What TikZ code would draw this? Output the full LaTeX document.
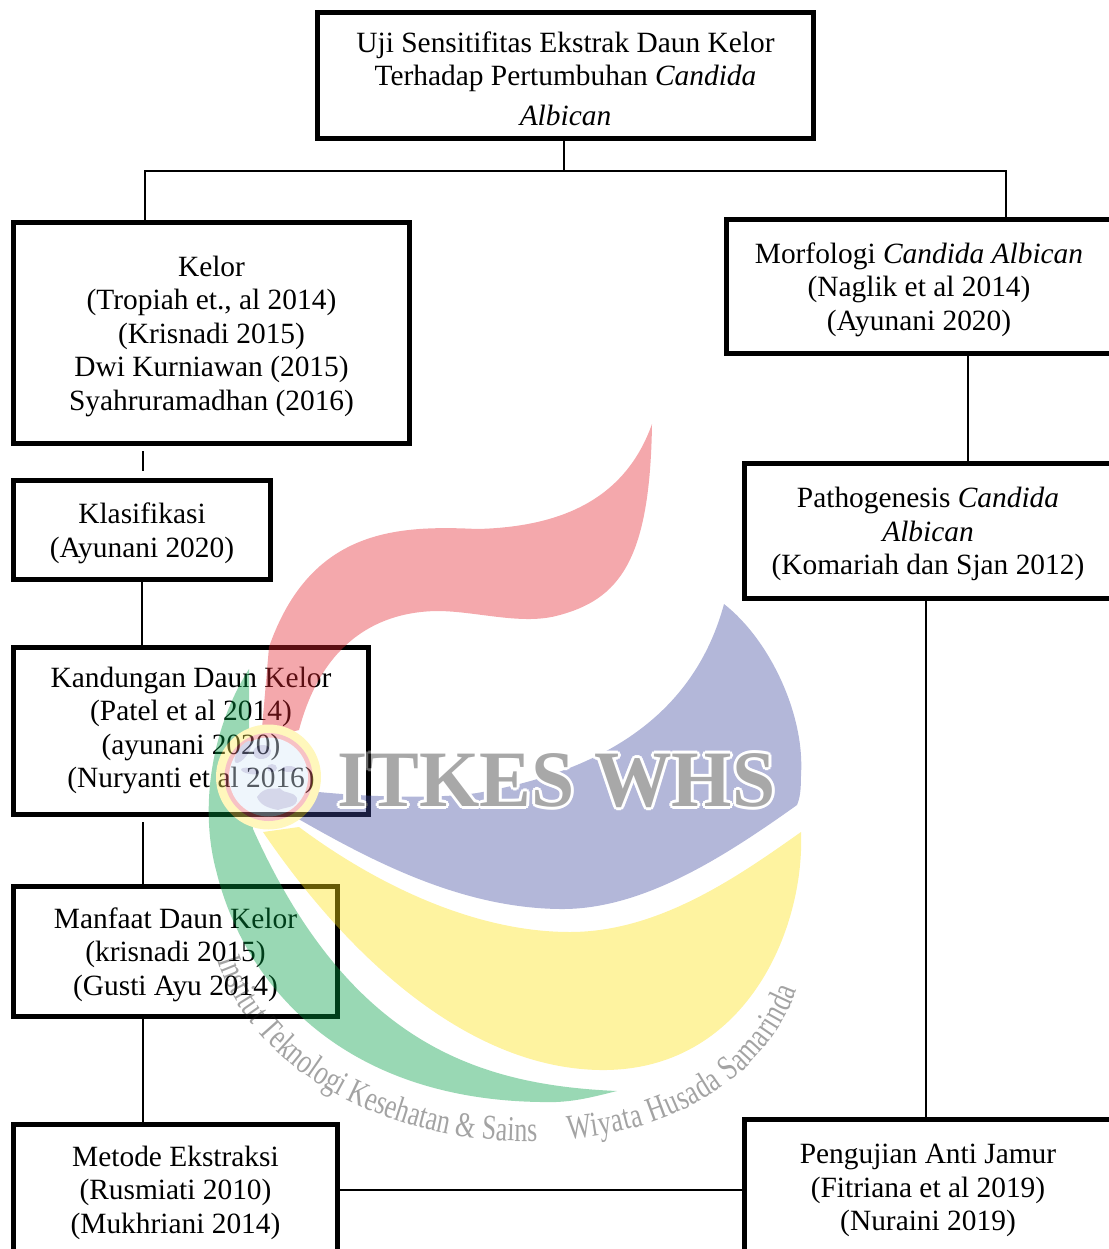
\documentclass[tikz,border=0pt]{standalone}
\usepackage{fontspec}
\setmainfont{Liberation Serif}
\newfontfamily\arcfont[FakeStretch=0.74]{Liberation Serif}
\usetikzlibrary{decorations.text}
\definecolor{logored}{RGB}{228,38,48}
\definecolor{logogreen}{RGB}{0,157,67}
\definecolor{logoblue}{RGB}{65,75,160}
\definecolor{logoyellow}{RGB}{253,225,17}
\definecolor{logosky}{RGB}{215,232,248}
\newcommand{\naik}{\rule{0pt}{27pt}}
\tikzset{
	teks/.style={align=center, inner sep=0pt},
	kotak/.style={draw, line width=5pt, teks},
	garis/.style={line width=2pt},
	wmtext/.style={font=\bfseries\fontsize{80}{80}\selectfont, xscale=0.97, inner sep=0pt}
}
\begin{document}
\begin{tikzpicture}[x=1pt,y=-1pt,font=\fontsize{29.4}{33.6}\selectfont, line join=miter]
	\useasboundingbox (0,0) rectangle (1108,1249);
	\node[kotak, minimum width=496pt, minimum height=126pt] (top) at (565.5,75.5) {\naik Uji Sensitifitas Ekstrak Daun Kelor\\Terhadap Pertumbuhan \textit{Candida}\\[6pt]\textit{Albican}};
	\node[kotak, minimum width=396pt, minimum height=221pt] (kelor) at (211.5,333) {\naik Kelor\\(Tropiah et., al 2014)\\(Krisnadi 2015)\\Dwi Kurniawan (2015)\\Syahruramadhan (2016)};
	\node[kotak, minimum width=257pt, minimum height=99pt] (klasifikasi) at (142,530) {\naik Klasifikasi\\(Ayunani 2020)};
	\node[kotak, minimum width=355pt, minimum height=167pt] (kandungan) at (191,731) {};
	\node[teks] (kandunganteks) at (191,730.5) {Kandungan Daun Kelor\\(Patel et al 2014)\\(ayunani 2020)\\(Nuryanti et al 2016)};
	\node[kotak, minimum width=324pt, minimum height=130pt] (manfaat) at (175.5,951.5) {\naik Manfaat Daun Kelor\\(krisnadi 2015)\\(Gusti Ayu 2014)};
	\node[kotak, minimum width=324pt, minimum height=130pt] (metode) at (175.5,1189.5) {\naik Metode Ekstraksi\\(Rusmiati 2010)\\(Mukhriani 2014)};
	\node[kotak, minimum width=386pt, minimum height=134pt] (morfologi) at (919,286.5) {\naik Morfologi \textit{Candida Albican}\\(Naglik et al 2014)\\(Ayunani 2020)};
	\node[kotak, minimum width=368pt, minimum height=135pt] (pathogenesis) at (928,531) {\naik Pathogenesis \textit{Candida}\\\textit{Albican}\\(Komariah dan Sjan 2012)};
	\node[kotak, minimum width=368pt, minimum height=135pt] (pengujian) at (928,1187) {\naik Pengujian Anti Jamur\\(Fitriana et al 2019)\\(Nuraini 2019)};
	% garis penghubung
	\coordinate (busC) at (564,171);
	\coordinate (busL) at (145,171);
	\coordinate (busR) at (1006,171);
	\coordinate (lajurK) at (142.5,0);
	\coordinate (lajurM) at (968,0);
	\coordinate (lajurP) at (926,0);
	\draw[garis] (busC |- top.south) -- (busC);
	\draw[garis] (busL |- kelor.north) -- (busL) -- (busR) -- (busR |- morfologi.north);
	\draw[garis, shorten <=5pt, shorten >=7pt] (lajurK |- kelor.south) -- (lajurK |- klasifikasi.north);
	\draw[garis] (klasifikasi.south) -- (klasifikasi.south |- kandungan.north);
	\draw[garis, shorten <=5pt] (lajurK |- kandungan.south) -- (lajurK |- manfaat.north);
	\draw[garis] (lajurK |- manfaat.south) -- (lajurK |- metode.north);
	\draw[garis] (lajurM |- morfologi.south) -- (lajurM |- pathogenesis.north);
	\draw[garis] (lajurP |- pathogenesis.south) -- (lajurP |- pengujian.north);
	\draw[garis] (metode.east) -- (metode.east -| pengujian.west);
	% logo
	\begin{scope}[transparency group, opacity=0.4]
		\fill[logored] (652,424) .. controls (625,500) and (560,527) .. (477,529) .. controls (395,525) and (310,530) .. (269,647) -- (261,740) -- (299,730)
			.. controls (320,650) and (370,612) .. (437,611) .. controls (475,611) and (520,625) .. (556,616) .. controls (620,600) and (650,560) .. (652,424) -- cycle;
		\fill[logogreen] (249,669) .. controls (210,730) and (200,810) .. (216,870) .. controls (245,990) and (350,1105) .. (556,1102) .. controls (580,1101) and (600,1095) .. (617,1091)
			.. controls (480,1085) and (350,1045) .. (253,829) -- (249,730) -- cycle;
		\fill[logoblue] (724,604) .. controls (770,640) and (805,715) .. (801,775) .. controls (801,790) and (800,798) .. (797,805)
			.. controls (720,860) and (640,910) .. (560,909) .. controls (460,908) and (370,860) .. (295,817)
			-- (300,790) .. controls (350,796) and (430,800) .. (477,793) .. controls (580,775) and (690,730) .. (724,604) -- cycle;
		\fill[logoyellow] (801,832) .. controls (805,930) and (745,1072) .. (600,1070) .. controls (470,1068) and (350,960) .. (263,832)
			-- (299,827) .. controls (370,880) and (470,932) .. (570,932) .. controls (660,932) and (740,875) .. (801,832) -- cycle;
		\fill[logoyellow!70] (268.5,777) circle (52.5);
		\fill[logored!70] (268.5,777) circle (44);
		\fill[logosky] (268.5,777) circle (39.5);
		% pulau pulau
		\foreach \px/\py/\rx/\ry/\rot in {243/752/5/13/-35,262/752/9/7/10,250/771/9/3/-10,272/768/5/4/0,289/769/7/3/0}
			\fill[logoblue!55] (\px,\py) [rotate around={\rot:(\px,\py)}] ellipse ({\rx} and {\ry});
		\fill[logoblue!55] (257,797) .. controls (265,785) and (275,790) .. (280,788) .. controls (285,795) and (292,790) .. (297,798) .. controls (298,808) and (285,807) .. (278,810) .. controls (268,808) and (260,805) .. (257,797) -- cycle;
		\foreach \dx/\dy in {-3/0,3/0,0/-3,0/3,-2/-2,2/2,-2/2,2/-2}
			\node[wmtext, text=white] at (556.5+\dx,781+\dy) {ITKES WHS};
		\node[wmtext, text=black!85] (judulwm) at (556.5,781) {ITKES WHS};
		\path[decorate, decoration={text along path, text align=fit to path,
			text={|\arcfont\fontsize{35}{35}\selectfont\color{black!90}|Institut Teknologi Kesehatan {\&} Sains}}]
			(218,960) .. controls (255,1078) and (400,1145) .. (537,1141);
		\path[decorate, decoration={text along path, text align=fit to path,
			text={|\arcfont\fontsize{35}{35}\selectfont\color{black!90}|Wiyata Husada Samarinda}}]
			(568,1139) .. controls (660,1132) and (760,1090) .. (797,990);
	\end{scope}
\end{tikzpicture}
\end{document}
